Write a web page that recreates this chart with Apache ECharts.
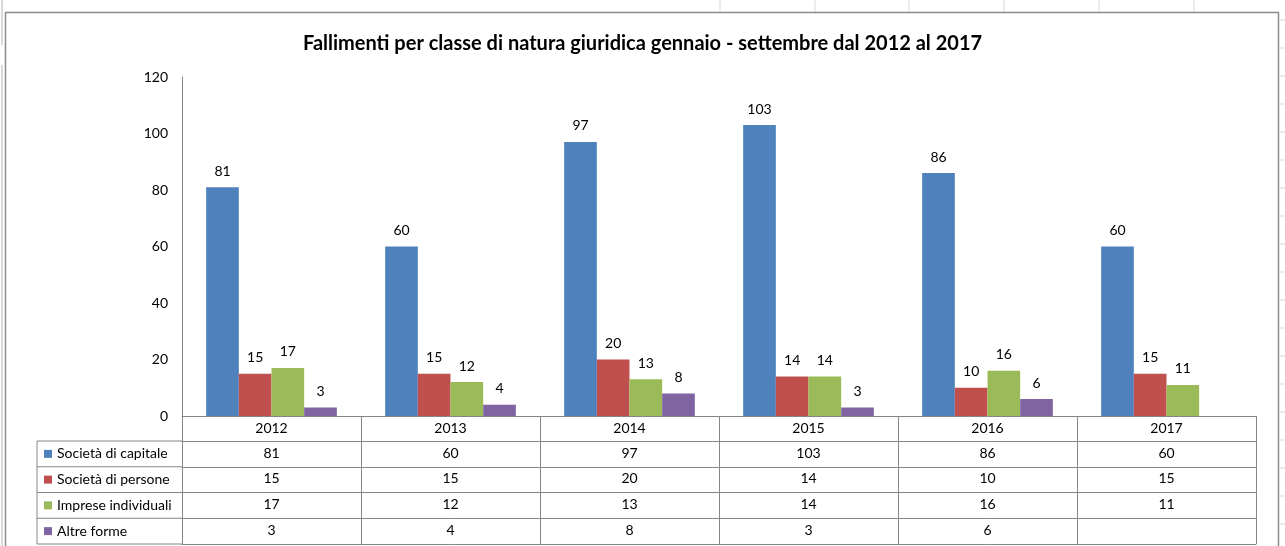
<!DOCTYPE html>
<html>
<head>
<meta charset="utf-8">
<script src="https://cdn.jsdelivr.net/npm/echarts@6/dist/echarts.min.js"></script>
<style>
html,body{margin:0;padding:0;background:#fff;}
#c{width:1285px;height:546px;}
</style>
</head>
<body>
<div id="c"></div>
<script>
// ---- data ----
var title = 'Fallimenti per classe di natura giuridica gennaio - settembre dal 2012 al 2017';
var years = ['2012', '2013', '2014', '2015', '2016', '2017'];
var seriesNames = ['Società di capitale', 'Società di persone', 'Imprese individuali', 'Altre forme'];
var capitale = [81, 60, 97, 103, 86, 60];
var persone = [15, 15, 20, 14, 10, 15];
var individuali = [17, 12, 13, 14, 16, 11];
var altre = [3, 4, 8, 3, 6, null];
var yTicks = { min: 0, max: 120, interval: 20 };
var colors = ['#4F81BD', '#C0504D', '#9BBB59', '#8064A2'];

var allSeries = [capitale, persone, individuali, altre];

// ---- layout ----
var W = 1285, H = 546;
var gridLeft = 182, gridRight = 29, gridTop = 77, gridBottom = 130;
var axisY = H - gridBottom; // 416
var headerH = 25;
var rowH = 25.75;
var lineCol = '#868686';
var font = 'Lato, "Open Sans", sans-serif';

var xAxes = [{
  type: 'category',
  data: years,
  gridIndex: 0,
  position: 'bottom',
  axisLine: { show: true, lineStyle: { color: lineCol, width: 1 } },
  axisTick: { show: true, alignWithLabel: false, interval: 0, length: headerH, lineStyle: { color: lineCol } },
  axisLabel: { show: true, interval: 0, margin: 5, color: '#000', fontSize: 14, fontFamily: font },
  splitLine: { show: false }
}];

allSeries.forEach(function (vals, k) {
  xAxes.push({
    type: 'category',
    data: years,
    gridIndex: 0,
    position: 'bottom',
    offset: headerH + rowH * k,
    axisLine: { show: true, lineStyle: { color: lineCol, width: 1 } },
    axisTick: { show: true, alignWithLabel: false, interval: 0, length: rowH, lineStyle: { color: lineCol } },
    axisLabel: {
      show: true, interval: 0, margin: 5, color: '#000', fontSize: 14, fontFamily: font,
      formatter: (function (arr) {
        return function (v, i) { return arr[i] == null ? '' : String(arr[i]); };
      })(vals)
    },
    splitLine: { show: false }
  });
});
// bottom border of table
xAxes.push({
  type: 'category',
  data: years,
  gridIndex: 0,
  position: 'bottom',
  offset: headerH + rowH * allSeries.length,
  axisLine: { show: true, lineStyle: { color: lineCol, width: 1 } },
  axisTick: { show: false },
  axisLabel: { show: false },
  splitLine: { show: false }
});

var series = allSeries.map(function (vals, k) {
  return {
    name: seriesNames[k],
    type: 'bar',
    xAxisIndex: 0,
    yAxisIndex: 0,
    data: vals,
    barGap: '0%',
    barCategoryGap: '27%',
    itemStyle: { color: colors[k] },
    label: {
      show: true, position: 'top', distance: 9,
      color: '#000', fontSize: 14, fontFamily: font
    }
  };
});

// graphic: chart border, left column of data table, spreadsheet gridlines
var graphics = [];
var gridLineCol = '#d9d9d9';
[720, 815, 909, 1004, 1099, 1194].forEach(function (x) {
  graphics.push({ type: 'line', shape: { x1: x, y1: 0, x2: x, y2: 12 }, style: { stroke: gridLineCol, lineWidth: 1 }, silent: true });
});
for (var yy = 20; yy < H; yy += 28) {
  graphics.push({ type: 'line', shape: { x1: 1280, y1: yy, x2: W, y2: yy }, style: { stroke: gridLineCol, lineWidth: 1 }, silent: true });
}
graphics.push({ type: 'line', shape: { x1: 2, y1: 0, x2: 2, y2: 45 }, style: { stroke: gridLineCol, lineWidth: 2 }, silent: true });
graphics.push({ type: 'line', shape: { x1: 2, y1: 65, x2: 2, y2: H }, style: { stroke: gridLineCol, lineWidth: 2 }, silent: true });
graphics.push({
  type: 'rect', shape: { x: 5.5, y: 12.5, width: 1273, height: H + 20 },
  style: { fill: null, stroke: '#8c8c8c', lineWidth: 1.5 }, silent: true, z: 0
});
var tableLeft = 37;
var tableTop = axisY + headerH;
for (var r = 0; r <= allSeries.length; r++) {
  var yLine = tableTop + rowH * r;
  graphics.push({ type: 'line', shape: { x1: tableLeft, y1: yLine, x2: gridLeft, y2: yLine }, style: { stroke: lineCol, lineWidth: 1 }, silent: true });
}
graphics.push({ type: 'line', shape: { x1: tableLeft, y1: tableTop, x2: tableLeft, y2: tableTop + rowH * allSeries.length }, style: { stroke: lineCol, lineWidth: 1 }, silent: true });

var option = {
  backgroundColor: '#ffffff',
  animation: false,
  color: colors,
  title: {
    text: title,
    left: 'center',
    top: 29,
    textStyle: { fontSize: 20, fontWeight: 'bold', color: '#000', fontFamily: font }
  },
  legend: {
    orient: 'vertical',
    left: 44,
    top: tableTop + rowH / 2 - 8,
    height: 120,
    padding: 0,
    itemWidth: 8,
    itemHeight: 8,
    itemGap: rowH - 16,
    icon: 'rect',
    selectedMode: false,
    data: seriesNames,
    textStyle: { fontSize: 14, color: '#000', fontFamily: font, lineHeight: 16 }
  },
  grid: { left: gridLeft, right: gridRight, top: gridTop, bottom: gridBottom, containLabel: false },
  xAxis: xAxes,
  yAxis: {
    type: 'value',
    min: yTicks.min, max: yTicks.max, interval: yTicks.interval,
    axisLine: { show: true, lineStyle: { color: lineCol } },
    axisTick: { show: false },
    splitLine: { show: false },
    axisLabel: { margin: 14, color: '#000', fontSize: 14, fontFamily: font }
  },
  graphic: graphics,
  series: series
};

var chart = echarts.init(document.getElementById('c'), null, { renderer: 'canvas' });
chart.setOption(option);
</script>
</body>
</html>
